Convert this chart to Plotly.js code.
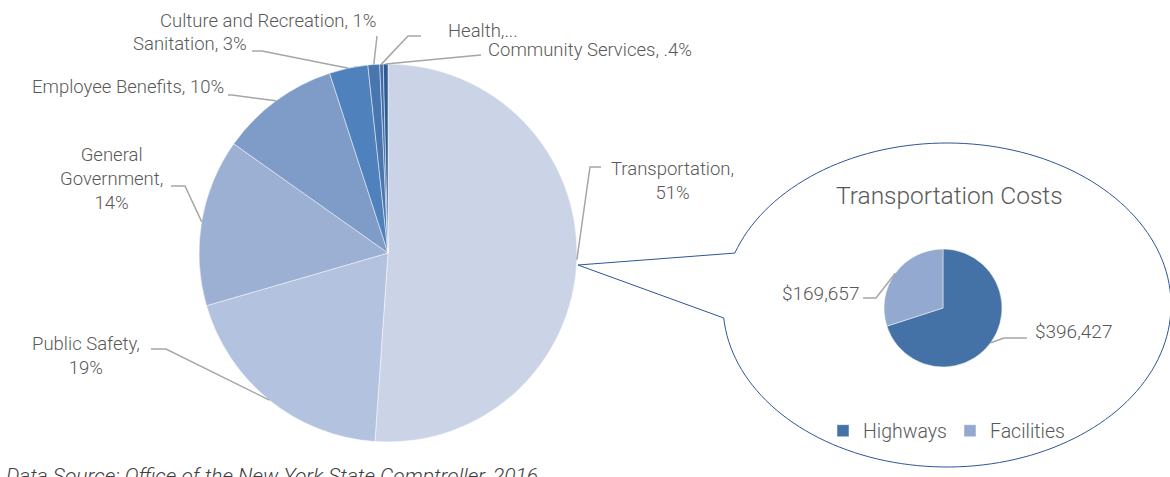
<!DOCTYPE html>
<html>
<head>
<meta charset="utf-8">
<script src="https://cdn.plot.ly/plotly-3.0.1.min.js"></script>
<style>html,body{margin:0;padding:0;background:#fff;}#chart{width:1170px;height:477px;}</style>
</head>
<body>
<div id="chart"></div>
<script>
// ---- data ----
const categories = ['Transportation','Public Safety','General Government','Employee Benefits','Sanitation','Culture and Recreation','Health','Community Services'];
const shares = [51.1, 19.4, 14.3, 10.2, 3.3, 1.0, 0.3, 0.4];
const shareLabels = ['Transportation,<br>51%','Public Safety,<br>19%','General<br>Government,<br>14%','Employee Benefits, 10%','Sanitation, 3%','Culture and Recreation, 1%','Health,...','Community Services, .4%'];
const transCategories = ['Highways','Facilities'];
const transCosts = [396427, 169657];
const transLabels = ['$396,427','$169,657'];

// ---- styling ----
const W = 1170, H = 477;
const FONT = 'Roboto, Lato, sans-serif';
const TXT = '#595959';
const LEAD = '#A6A6A6';
const mainColors = ['#CAD4E6','#B3C2DE','#9CB0D3','#7F9BC8','#4F81BD','#4A76B0','#3E6AA5','#2F5B94'];
const transColors = ['#4472A7','#94A9D0'];

const px = x => x / W;
const py = y => 1 - y / H;

// pie geometry (pixels)
const mainBox = {x0:199, x1:577, y0:64, y1:442};
const transBox = {x0:884, x1:1002, y0:249, y1:367};

function geom(b){
  return {cx:(b.x0+b.x1)/2, cy:(b.y0+b.y1)/2, r:Math.min(b.x1-b.x0, b.y1-b.y0)/2};
}
function rimPoint(values, i, g){
  const tot = values.reduce((a,b)=>a+b,0);
  let cum = 0; for(let k=0;k<i;k++) cum += values[k];
  cum += values[i]/2;
  const a = cum/tot*2*Math.PI;
  return [g.cx + g.r*Math.sin(a), g.cy - g.r*Math.cos(a)];
}

// label placement (pixels) + leader elbows
const mainLabelPos = [
  {x:672, y:181, xanchor:'center', lead:[[601,167],[590,167]]},
  {x:86,  y:356, xanchor:'center', lead:[[151,349],[166,349]]},
  {x:111, y:179, xanchor:'center', lead:[[171,186],[185,186]]},
  {x:226, y:87,  xanchor:'right',  lead:[[228,95],[232,95]]},
  {x:249, y:44,  xanchor:'right',  lead:[[252,51],[262,51]]},
  {x:268, y:21,  xanchor:'center', lead:[[377,36]]},
  {x:446, y:31,  xanchor:'left',   lead:[[421,36],[408,36]]},
  {x:486, y:50,  xanchor:'left',   lead:[[481,55],[470,56]]}
];
const transLabelPos = [
  {x:1033, y:331, xanchor:'left',  lead:[[1027,338],[1004,338]]},
  {x:861,  y:293, xanchor:'right', lead:[[863,298],[876,298]]}
];

const annotations = [];
const shapes = [];

function addLabels(values, texts, pos, g, size){
  values.forEach((v,i)=>{
    const p = pos[i];
    annotations.push({xref:'paper', yref:'paper', x:px(p.x), y:py(p.y), xanchor:p.xanchor, yanchor:'middle',
      text:texts[i], showarrow:false, align:'center', font:{family:FONT, size:size, weight:300, color:TXT}});
    const rim = rimPoint(values, i, g);
    const pts = p.lead.concat([rim]);
    const path = pts.map((q,k)=>(k? 'L':'M') + px(q[0]).toFixed(5) + ',' + py(q[1]).toFixed(5)).join(' ');
    shapes.push({type:'path', xref:'paper', yref:'paper', path:path, line:{color:LEAD, width:1.5}});
  });
}
const gMain = geom(mainBox), gTrans = geom(transBox);
addLabels(shares, shareLabels, mainLabelPos, gMain, 18.5);
addLabels(transCosts, transLabels, transLabelPos, gTrans, 19);

// callout bubble
(function(){
  const cx=947, cy=305, a=224, b=162;
  const t0 = 198.7*Math.PI/180, t1 = (175.4+360)*Math.PI/180;
  const n = 160; let d = '';
  for(let k=0;k<=n;k++){
    const t = t0 + (t1-t0)*k/n;
    const x = cx + a*Math.cos(t), y = cy + b*Math.sin(t);
    d += (k? ' L':'M') + px(x).toFixed(5) + ',' + py(y).toFixed(5);
  }
  d += ' L' + px(578).toFixed(5) + ',' + py(265).toFixed(5) + ' Z';
  shapes.push({type:'path', xref:'paper', yref:'paper', path:d, line:{color:'#2F5597', width:1}, fillcolor:'rgba(0,0,0,0)', layer:'below'});
})();

annotations.push({xref:'paper', yref:'paper', x:px(949), y:py(195), xanchor:'center', yanchor:'middle',
  text:'Transportation Costs', showarrow:false, font:{family:FONT, size:24.5, weight:300, color:TXT}});
annotations.push({xref:'paper', yref:'paper', x:px(4), y:py(476), xanchor:'left', yanchor:'middle',
  text:'<i>Data Source: Office of the New York State Comptroller, 2016</i>', showarrow:false, font:{family:FONT, size:21, weight:300, color:'#404040'}});

const traces = [
  {type:'pie', labels:categories, values:shares, sort:false, direction:'clockwise', rotation:0,
   textinfo:'none', hoverinfo:'label+percent', showlegend:false,
   marker:{colors:mainColors, line:{color:'rgba(255,255,255,0.6)', width:0.8}},
   domain:{x:[px(mainBox.x0), px(mainBox.x1)], y:[py(mainBox.y1), py(mainBox.y0)]}},
  {type:'pie', labels:transCategories, values:transCosts, sort:false, direction:'clockwise', rotation:0,
   textinfo:'none', hoverinfo:'label+value', showlegend:true,
   marker:{colors:transColors, line:{color:'rgba(255,255,255,0.6)', width:0.8}},
   domain:{x:[px(transBox.x0), px(transBox.x1)], y:[py(transBox.y1), py(transBox.y0)]}}
];

const layout = {
  width:W, height:H, margin:{l:0,r:0,t:0,b:0}, paper_bgcolor:'#fff',
  showlegend:true,
  legend:{orientation:'h', x:px(823), y:py(431), xanchor:'left', yanchor:'middle',
    font:{family:FONT, size:19.5, weight:300, color:TXT}, itemwidth:30, entrywidth:82, entrywidthmode:'pixels',
    tracegroupgap:0, bgcolor:'rgba(0,0,0,0)'},
  annotations:annotations, shapes:shapes
};
Plotly.newPlot('chart', traces, layout, {displayModeBar:false, staticPlot:true});
</script>
</body>
</html>
